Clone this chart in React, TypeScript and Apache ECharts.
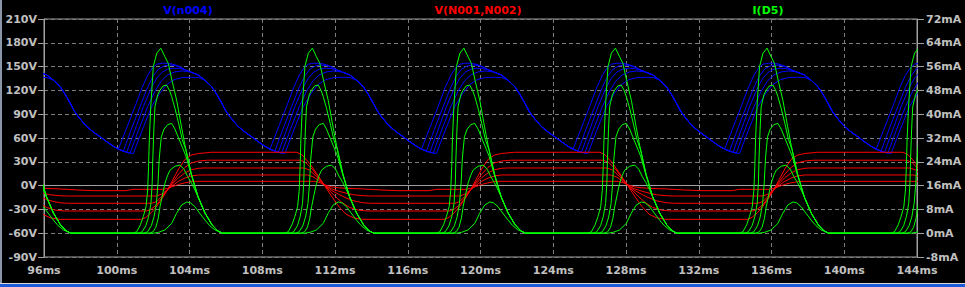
import React, { useEffect, useRef } from "react";
import * as echarts from "echarts";

// Axes
const xMin = 96, xMax = 144, xStep = 4;
const vMin = -90, vMax = 210, vStep = 30;
const iMin = -8, iMax = 72, iStep = 8;

const traceNames = ["V(n004)", "V(N001,N002)", "I(D5)"];
const traceColors = ["#0000ff", "#ff0000", "#00ff00"];

// The waveforms repeat every rectified half cycle (ms)
const periodMs = 8.333;
const halfCycleShifts = [-1, 0, 1, 2, 3, 4, 5];
const fullCycleShifts = [-1, 0, 1, 2];

// ---- V(n004): one cycle per step, read around 100..109 ms (V) ----
const blueCommon: number[][] = [
  [104.48, 139.5], [104.84, 133], [105.22, 124.7], [105.5, 115], [105.77, 104],
  [106.0, 94], [106.2, 87.5], [106.45, 80.5], [106.68, 74.5], [107.05, 67.5],
  [107.42, 61.5], [107.8, 55], [108.15, 49.5],
];
const blueTrough: number[][] = [[108.42, 46], [108.69, 43.5], [108.88, 42], [109.06, 41]];
const blue1: number[][] = [
  [100.09, 46], [100.5, 70], [101.0, 99.5], [101.4, 124], [101.7, 139], [101.95, 148],
  [102.2, 153], [102.5, 154.3], [102.9, 154], [103.2, 152.2], [103.48, 149.8],
  [103.75, 146.2], [104.03, 143.5],
];
const blue2: number[][] = [
  [100.36, 43.5], [100.8, 71], [101.28, 99.5], [101.7, 124], [102.0, 138], [102.3, 147],
  [102.6, 150.8], [102.9, 152], [103.2, 151.3], [103.48, 149.3], [103.75, 146], [104.03, 143.4],
];
const blue3: number[][] = [
  [100.55, 42], [101.0, 70], [101.46, 99.5], [101.9, 123], [102.2, 135.5], [102.5, 143],
  [102.8, 146.8], [103.1, 147.9], [103.45, 147.6], [103.75, 146], [104.03, 143.4],
];
const blue4: number[][] = [
  [100.73, 41], [101.2, 70], [101.7, 99.5], [102.1, 119], [102.45, 132], [102.8, 139.5],
  [103.2, 143.3], [103.6, 144.5], [104.03, 143.4],
];
const blue5: number[][] = [
  [100.91, 40.5], [101.4, 70], [101.92, 99.5], [102.35, 116], [102.75, 127.5],
  [103.15, 133.5], [103.6, 136.2], [104.1, 136.5], [104.5, 136.2], [104.84, 133],
];

// ---- I(D5): one pulse per step (mA) ----
const greenTail: number[][] = [[104.47, 12.2], [104.85, 6.8], [105.24, 2.8], [105.55, 0.8], [105.8, 0]];
const green1: number[][] = [
  [100.9, 0], [101.1, 0.5], [101.3, 2.8], [101.46, 5.6], [101.61, 8.9], [101.7, 14.5],
  [101.75, 22.4], [101.79, 31.3], [101.87, 42.5], [102.01, 56], [102.2, 60.5], [102.42, 62.2],
  [102.65, 59.3], [102.83, 57.1], [103.05, 51], [103.3, 44.5], [103.55, 36], [103.75, 29.6],
  [104.1, 20],
];
const green2: number[][] = [
  [101.2, 0], [101.4, 0.5], [101.6, 2.5], [101.75, 5.5], [101.88, 10], [101.95, 17],
  [101.98, 24.6], [102.04, 35], [102.1, 42.5], [102.25, 46.5], [102.38, 48.1], [102.55, 49.5],
  [102.74, 49.8], [102.9, 48], [103.02, 45.9], [103.2, 42], [103.4, 37], [103.6, 31.5],
  [103.8, 28], [104.1, 19.8],
];
const green3: number[][] = [
  [101.5, 0], [101.7, 0.5], [101.9, 2.5], [102.05, 5.5], [102.18, 10], [102.27, 17],
  [102.33, 24.6], [102.38, 28], [102.45, 32.4], [102.6, 35], [102.8, 36.5], [103.02, 36.9],
  [103.2, 35], [103.4, 32], [103.6, 29], [103.8, 26], [104.1, 19.5],
];
const green4: number[][] = [
  [101.8, 0], [102.0, 0.5], [102.15, 2], [102.28, 5], [102.38, 8.9], [102.5, 12.5],
  [102.65, 16.8], [102.8, 19.5], [102.93, 21.2], [103.2, 22.5], [103.48, 22.9], [103.7, 21.5],
  [103.9, 19], [104.1, 17], [104.3, 14.5],
];
const green5: number[][] = [
  [102.0, 0], [102.3, 0.3], [102.65, 1.1], [103.02, 3.3], [103.29, 6.7], [103.57, 9.5],
  [103.85, 10.5], [104.05, 10.2], [104.3, 8.9], [104.55, 6.8], [104.85, 4.4], [105.1, 2.6],
  [105.4, 1.1], [105.8, 0],
];

// ---- V(N001,N002): one full cycle (up then down) per step (V) ----
const red1: number[][] = [
  [101.37, -42.5], [101.6, -40], [101.9, -34], [102.2, -26], [102.5, -16], [102.8, -5],
  [103.1, 8], [103.4, 21], [103.75, 33], [104.1, 38.5], [104.5, 40.5], [105.2, 42],
  [109.9, 42], [110.2, 38.5], [110.6, 28], [111.0, 15], [111.4, 1], [111.8, -13],
  [112.2, -26], [112.6, -36], [113.0, -40.5], [113.5, -42.5],
];
const red2: number[][] = [
  [101.65, -32], [101.9, -29.5], [102.2, -24], [102.5, -15], [102.8, -5], [103.1, 5],
  [103.4, 14.5], [103.75, 23], [104.1, 28.5], [104.5, 31], [105.0, 32],
  [110.1, 32], [110.4, 29], [110.8, 19.5], [111.2, 7], [111.6, -4], [112.0, -13.5],
  [112.4, -21.5], [112.8, -27.5], [113.3, -31], [113.8, -32],
];
const red3: number[][] = [
  [101.92, -22.3], [102.2, -20], [102.5, -13], [102.8, -5], [103.1, 3], [103.4, 10],
  [103.75, 16], [104.1, 20], [104.5, 21.8], [104.8, 22.2],
  [110.3, 22.2], [110.6, 19.5], [111.0, 11], [111.4, 1], [111.8, -6], [112.2, -11],
  [112.6, -15.5], [113.0, -19], [113.5, -21.5], [114.0, -22.3],
];
const red4: number[][] = [
  [102.2, -13.1], [102.5, -10.5], [102.8, -5], [103.1, 0.5], [103.4, 5.5], [103.75, 9.5],
  [104.1, 12.2], [104.5, 13.4],
  [110.5, 13.4], [110.8, 11], [111.1, 6.5], [111.4, 0.5], [111.8, -4], [112.2, -7],
  [112.6, -9.5], [113.0, -11.5], [113.5, -12.7], [114.0, -13.1],
];
const red5: number[][] = [
  [100.5, -6.4], [100.9, -4.7], [102.5, -4.7], [102.8, -3.5], [103.1, -1], [103.4, 1.5],
  [103.75, 3.5], [104.1, 5], [104.3, 5.4],
  [110.9, 5.4], [111.2, 3.5], [111.5, 0.5], [111.8, -1.5], [112.2, -2.8], [112.7, -3.5],
  [113.5, -4.2], [114.5, -5.5], [115.5, -6.4],
];

const tile = (pts: number[][], shifts: number[], period: number) =>
  shifts.flatMap((c) => pts.map(([t, v]) => [Math.round((t + c * period) * 1000) / 1000, v]));

const blueSteps = [
  [...blue1, ...blueCommon],
  [...blue2, ...blueCommon, ...blueTrough.slice(0, 1)],
  [...blue3, ...blueCommon, ...blueTrough.slice(0, 2)],
  [...blue4, ...blueCommon, ...blueTrough.slice(0, 3)],
  [...blue5, ...blueCommon.slice(2), ...blueTrough.slice(0, 4)],
];
const greenSteps = [
  [...green1, ...greenTail],
  [...green2, ...greenTail],
  [...green3, ...greenTail],
  [...green4, ...greenTail],
  green5,
];
const redSteps = [red1, red2, red3, red4, red5];

const FONT = "DejaVu Sans";
const LABEL = "#c0c0c0";
const AXIS = "#a0a0a0";
const GRID = "#7c7c7c";

export default function App() {
  const ref = useRef<HTMLDivElement>(null);
  useEffect(() => {
    if (!ref.current) return;
    const chart = echarts.init(ref.current, undefined, { renderer: "svg" });
    const mk = (data: number[][], color: string, yAxisIndex: number, name: string) => ({
      type: "line",
      name,
      data,
      yAxisIndex,
      showSymbol: false,
      symbol: "none",
      clip: true,
      lineStyle: { color, width: 1 },
      emphasis: { disabled: true },
      silent: true,
    });
    const series: any[] = [];
    blueSteps.forEach((s) => series.push(mk(tile(s, halfCycleShifts, periodMs), traceColors[0], 0, traceNames[0])));
    redSteps.forEach((s) => series.push(mk(tile(s, fullCycleShifts, 2 * periodMs), traceColors[1], 0, traceNames[1])));
    greenSteps.forEach((s) => series.push(mk(tile(s, halfCycleShifts, periodMs), traceColors[2], 1, traceNames[2])));

    const labelStyle = { color: LABEL, fontFamily: FONT, fontWeight: "bold" as const, fontSize: 11 };
    chart.setOption({
      animation: false,
      backgroundColor: "#000000",
      grid: { left: 44, right: 48, top: 19, bottom: 30, show: true, borderColor: AXIS, borderWidth: 1, backgroundColor: "#000000" },
      xAxis: {
        type: "value", min: xMin, max: xMax, interval: xStep,
        axisLine: { show: true, lineStyle: { color: AXIS, width: 1 } },
        axisTick: { show: true, length: 4, lineStyle: { color: AXIS } },
        axisLabel: { ...labelStyle, margin: 8, formatter: (v: number) => `${v}ms`, showMinLabel: true, showMaxLabel: true },
        splitLine: { show: true, lineStyle: { color: GRID, type: [4, 3], width: 1 } },
      },
      yAxis: [
        {
          type: "value", min: vMin, max: vMax, interval: vStep, position: "left",
          axisLine: { show: true, lineStyle: { color: AXIS, width: 1 } },
          axisTick: { show: true, length: 6, lineStyle: { color: AXIS } },
          axisLabel: { ...labelStyle, margin: 7, formatter: (v: number) => `${v}V`, showMinLabel: true, showMaxLabel: true },
          splitLine: { show: true, lineStyle: { color: GRID, type: [4, 3], width: 1 } },
        },
        {
          type: "value", min: iMin, max: iMax, interval: iStep, position: "right",
          axisLine: { show: true, lineStyle: { color: AXIS, width: 1 } },
          axisTick: { show: true, length: 7, lineStyle: { color: AXIS } },
          axisLabel: { ...labelStyle, margin: 9, formatter: (v: number) => `${v}mA`, showMinLabel: true, showMaxLabel: true },
          splitLine: { show: false },
        },
      ],
      graphic: [
        { type: "text", x: 188, y: 10, style: { text: traceNames[0], fill: traceColors[0], font: `bold 11px "${FONT}"`, align: "center", verticalAlign: "middle" } },
        { type: "text", x: 478, y: 10, style: { text: traceNames[1], fill: traceColors[1], font: `bold 11px "${FONT}"`, align: "center", verticalAlign: "middle" } },
        { type: "text", x: 768, y: 10, style: { text: traceNames[2], fill: traceColors[2], font: `bold 11px "${FONT}"`, align: "center", verticalAlign: "middle" } },
        { type: "rect", shape: { x: 0, y: 0, width: 2, height: 283 }, style: { fill: "#8a96a8" } },
        { type: "rect", shape: { x: 0, y: 283, width: 965, height: 1 }, style: { fill: "#d8d8d8" } },
        { type: "rect", shape: { x: 0, y: 284, width: 965, height: 3 }, style: { fill: "#1c5ad8" } },
      ],
      series,
    });
    return () => chart.dispose();
  }, []);
  return <div ref={ref} style={{ position: "fixed", left: 0, top: 0, width: 965, height: 287 }} />;
}
